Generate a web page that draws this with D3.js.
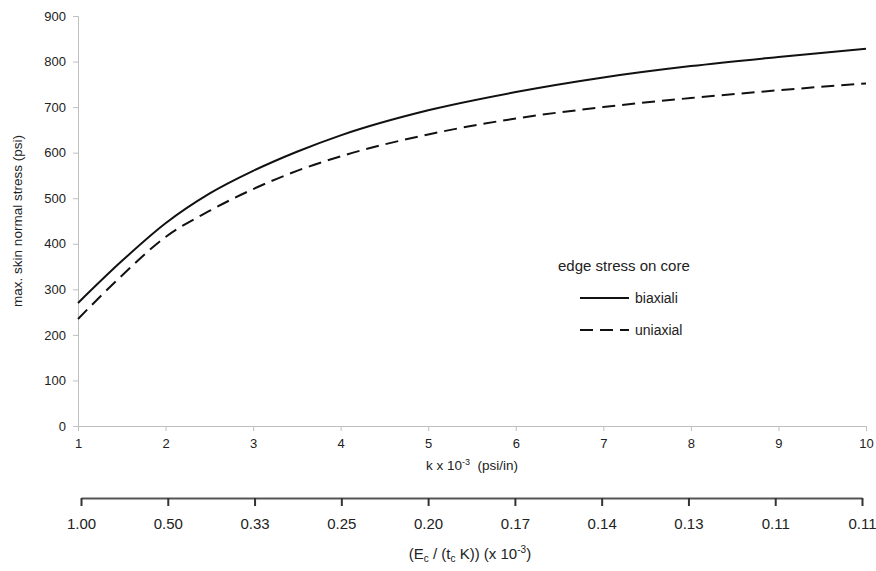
<!DOCTYPE html>
<html>
<head>
<meta charset="utf-8">
<script src="https://cdn.jsdelivr.net/npm/d3@7"></script>
<style>
  body { margin: 0; background: white; }
  text { font-family: "Liberation Sans", Arial, sans-serif; }
</style>
</head>
<body>
<div id="chart"></div>
<script>
// data
var kValues = [1, 1.5, 2, 2.5, 3, 3.5, 4, 5, 6, 7, 8, 9, 10];
var biaxial = [270, 362, 445, 510, 560, 602, 638, 693, 733, 765, 790, 810, 828];
var uniaxial = [235, 330, 415, 472, 520, 560, 592, 640, 675, 700, 720, 737, 752];
var kTicks = [1, 2, 3, 4, 5, 6, 7, 8, 9, 10];
var inverseLabels = ["1.00", "0.50", "0.33", "0.25", "0.20", "0.17", "0.14", "0.13", "0.11", "0.11"];
var yTicks = [0, 100, 200, 300, 400, 500, 600, 700, 800, 900];

var w = 876, h = 571;
var axisGrey = "#bfbfbf";
var labelColor = "#222";

var svg = d3.select("#chart").append("svg").attr("width", w).attr("height", h);

var x = d3.scaleLinear().domain([1, 10]).range([78, 866]);
var y = d3.scaleLinear().domain([0, 900]).range([426, 16]);

// y axis
var yAxis = svg.append("g")
    .attr("transform", "translate(78,0)")
    .call(d3.axisLeft(y).tickValues(yTicks).tickSize(5).tickPadding(7));
yAxis.select(".domain").attr("stroke", axisGrey);
yAxis.selectAll(".tick line").attr("stroke", axisGrey);
yAxis.selectAll("text").attr("font-size", "13px").attr("fill", labelColor)
    .attr("font-family", "Liberation Sans");

// x axis
var xAxis = svg.append("g")
    .attr("transform", "translate(0,426)")
    .call(d3.axisBottom(x).tickValues(kTicks).tickSize(5).tickSizeOuter(0).tickPadding(8));
xAxis.select(".domain").attr("stroke", axisGrey);
xAxis.selectAll(".tick line").attr("stroke", axisGrey);
xAxis.selectAll("text").attr("font-size", "13px").attr("fill", labelColor)
    .attr("font-family", "Liberation Sans");

// axis titles
svg.append("text")
    .attr("transform", "translate(22,221) rotate(-90)")
    .attr("text-anchor", "middle")
    .attr("font-size", "13.5px")
    .attr("fill", labelColor)
    .text("max. skin normal stress (psi)");

var kTitle = svg.append("text")
    .attr("x", 472).attr("y", 470)
    .attr("text-anchor", "middle")
    .attr("font-size", "13.5px")
    .attr("fill", labelColor);
kTitle.append("tspan").text("k x 10");
kTitle.append("tspan").attr("dy", -5).attr("font-size", "9px").text("-3");
kTitle.append("tspan").attr("dy", 5).attr("xml:space", "preserve").text("  (psi/in)");

// lines
var line = d3.line()
    .x(function(d) { return x(d[0]); })
    .y(function(d) { return y(d[1]); })
    .curve(d3.curveMonotoneX);

svg.append("path")
    .datum(kValues.map(function(k, i) { return [k, biaxial[i]]; }))
    .attr("d", line)
    .attr("fill", "none")
    .attr("stroke", "#111")
    .attr("stroke-width", 2);

svg.append("path")
    .datum(kValues.map(function(k, i) { return [k, uniaxial[i]]; }))
    .attr("d", line)
    .attr("fill", "none")
    .attr("stroke", "#111")
    .attr("stroke-width", 2)
    .attr("stroke-dasharray", "13,7");

// legend
var legend = svg.append("g");
legend.append("text")
    .attr("x", 558).attr("y", 271)
    .attr("font-size", "15px")
    .attr("fill", labelColor)
    .text("edge stress on core");
legend.append("line")
    .attr("x1", 580).attr("x2", 629).attr("y1", 298).attr("y2", 298)
    .attr("stroke", "#111").attr("stroke-width", 2);
legend.append("text")
    .attr("x", 635).attr("y", 303)
    .attr("font-size", "14px")
    .attr("fill", labelColor)
    .text("biaxiali");
legend.append("line")
    .attr("x1", 580).attr("x2", 629).attr("y1", 330).attr("y2", 330)
    .attr("stroke", "#111").attr("stroke-width", 2)
    .attr("stroke-dasharray", "13,7");
legend.append("text")
    .attr("x", 635).attr("y", 335)
    .attr("font-size", "14px")
    .attr("fill", labelColor)
    .text("uniaxial");

// second axis (1/k)
var x2 = d3.scaleLinear().domain([1, 10]).range([81, 862]);
var x2Axis = svg.append("g")
    .attr("transform", "translate(0,498)")
    .call(d3.axisBottom(x2).tickValues(kTicks).tickSize(8).tickSizeOuter(0).tickPadding(12)
        .tickFormat(function(d, i) { return inverseLabels[i]; }));
x2Axis.select(".domain").attr("stroke", "#555").attr("stroke-width", 2);
x2Axis.selectAll(".tick line").attr("stroke", "#333").attr("stroke-width", 2);
x2Axis.selectAll("text").attr("font-size", "15px").attr("fill", labelColor)
    .attr("font-family", "Lato, 'Open Sans', sans-serif");

var eTitle = svg.append("text")
    .attr("x", 470).attr("y", 559)
    .attr("text-anchor", "middle")
    .attr("font-size", "15px")
    .attr("fill", labelColor)
    .attr("font-family", "Lato, 'Open Sans', sans-serif");
eTitle.append("tspan").text("(E");
eTitle.append("tspan").attr("dy", 3).attr("font-size", "10px").text("c");
eTitle.append("tspan").attr("dy", -3).text(" / (t");
eTitle.append("tspan").attr("dy", 3).attr("font-size", "10px").text("c");
eTitle.append("tspan").attr("dy", -3).text(" K)) (x 10");
eTitle.append("tspan").attr("dy", -6).attr("font-size", "10px").text("-3");
eTitle.append("tspan").attr("dy", 6).text(")");
</script>
</body>
</html>
